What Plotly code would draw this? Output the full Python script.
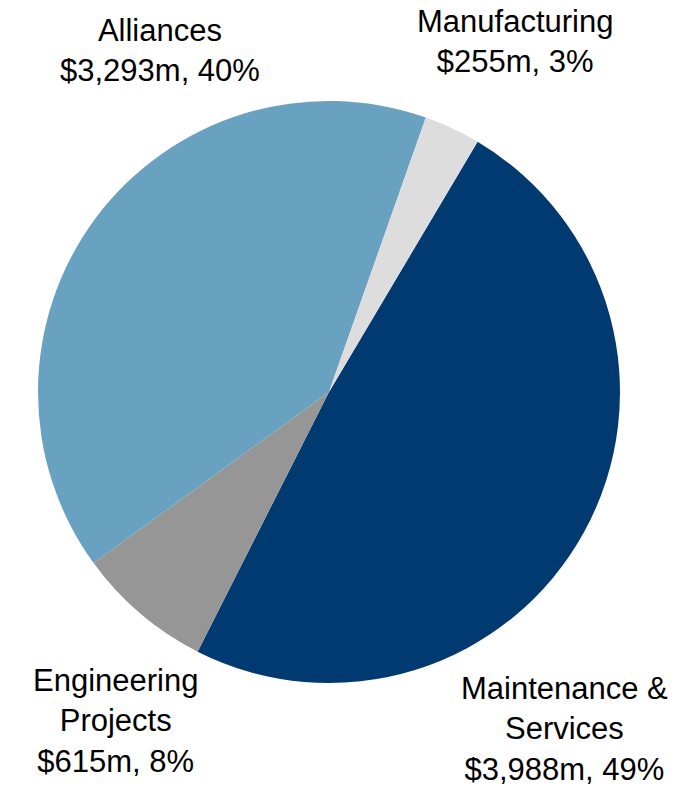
import plotly.graph_objects as go

# Revenue by segment
segments = ["Maintenance &<br>Services", "Engineering<br>Projects", "Alliances", "Manufacturing"]
revenue_m = [3988, 615, 3293, 255]
colors = ["#003A70", "#969696", "#68A2C0", "#DDDDDD"]

# label anchor positions (pixels from top-left) for each segment's caption
label_px = [(564, 729), (115, 721), (160, 50), (515, 42)]

W, H = 689, 787
total = sum(revenue_m)

fig = go.Figure(
    go.Pie(
        labels=segments,
        values=revenue_m,
        marker=dict(colors=colors, line=dict(width=0)),
        sort=False,
        direction="clockwise",
        rotation=30.7,
        textinfo="none",
        hoverinfo="label+value+percent",
        domain=dict(x=[(329 - 291) / W, (329 + 291) / W],
                    y=[(H - 392 - 291) / H, (H - 392 + 291) / H]),
    )
)

annotations = []
for name, val, (px, py) in zip(segments, revenue_m, label_px):
    pct = round(100 * val / total)
    annotations.append(dict(
        x=px / W, y=1 - py / H, xref="paper", yref="paper",
        xanchor="center", yanchor="middle", showarrow=False, align="center",
        text=f"{name}<br>${val:,}m, {pct}%",
        font=dict(family="Liberation Sans, Arial, sans-serif", size=31, color="#000000"),
    ))

fig.update_layout(
    width=W, height=H,
    margin=dict(l=0, r=0, t=0, b=0),
    paper_bgcolor="white",
    plot_bgcolor="white",
    showlegend=False,
    annotations=annotations,
)

fig.write_html("out.html")
